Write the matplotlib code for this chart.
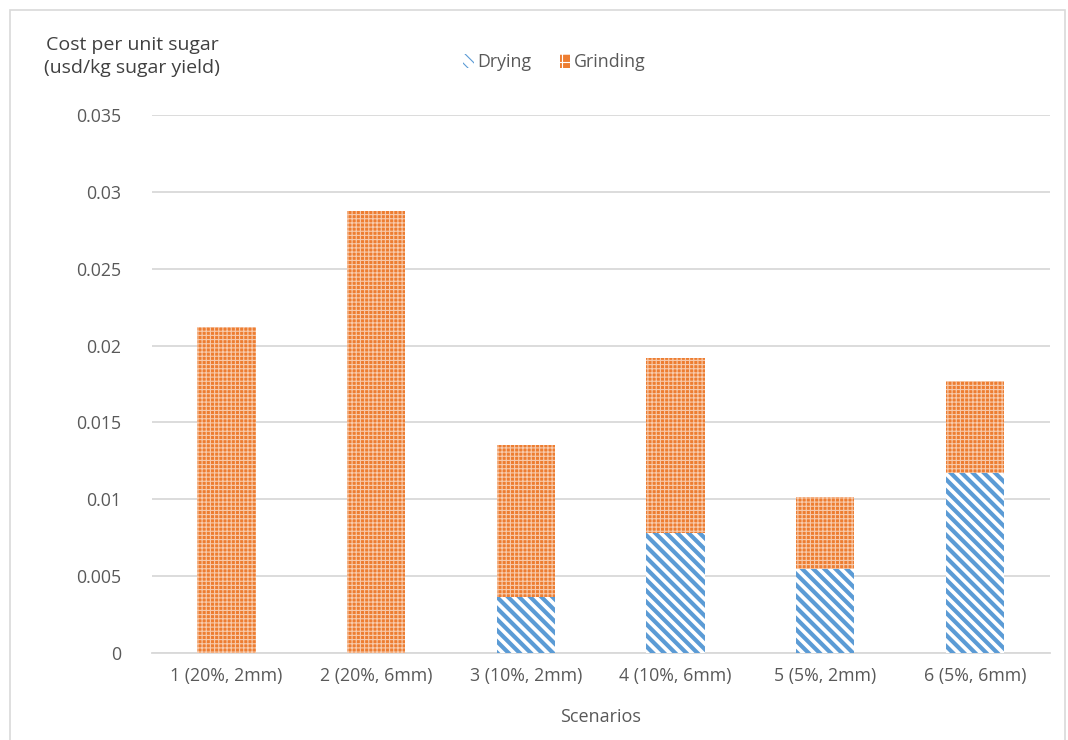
import matplotlib

matplotlib.use("Agg")
import matplotlib.pyplot as plt
from matplotlib.patches import Rectangle, Patch

scenarios = ["1 (20%, 2mm)", "2 (20%, 6mm)", "3 (10%, 2mm)", "4 (10%, 6mm)", "5 (5%, 2mm)", "6 (5%, 6mm)"]
drying = [0.0, 0.0, 0.00364, 0.00781, 0.00546, 0.01171]
total = [0.02121, 0.02875, 0.01353, 0.01919, 0.01015, 0.01769]
grinding = [t - d for t, d in zip(total, drying)]
yticks = [0, 0.005, 0.01, 0.015, 0.02, 0.025, 0.03, 0.035]
ytick_labels = ["0", "0.005", "0.01", "0.015", "0.02", "0.025", "0.03", "0.035"]

BLUE = "#5B9BD5"
ORANGE = "#ED7D31"
TEXT = "#595959"

plt.rcParams["font.family"] = ["Open Sans", "DejaVu Sans"]
plt.rcParams["hatch.linewidth"] = 3.0

fig = plt.figure(figsize=(10.68, 7.4), dpi=100)
ax = fig.add_axes([0.142, 0.1176, 0.841, 0.727])

x = list(range(len(scenarios)))
ax.bar(x, drying, width=0.39, color="white", edgecolor=BLUE, hatch="\\\\\\", linewidth=0, zorder=3)
ax.bar(x, grinding, width=0.39, bottom=drying, color=ORANGE, edgecolor="white", linewidth=0, zorder=3)
# white dot grid over the orange part
plt.rcParams["hatch.linewidth"] = 0.8
g = ax.bar(x, grinding, width=0.39, bottom=drying, color="none", edgecolor="white", hatch="++++", linewidth=0, zorder=4)
for patch in g:
    patch.set_alpha(0.6)

ax.set_xlim(-0.5, len(scenarios) - 0.5)
ax.set_ylim(0, 0.035)
ax.set_yticks(yticks)
ax.set_yticklabels(ytick_labels)
ax.set_xticks(x)
ax.set_xticklabels(scenarios)
ax.tick_params(length=0, labelsize=12.8, colors=TEXT)
ax.tick_params(axis="y", pad=22)
ax.tick_params(axis="x", pad=10)
for side in ("top", "right", "left"):
    ax.spines[side].set_visible(False)
ax.spines["bottom"].set_color("#D9D9D9")
ax.spines["bottom"].set_linewidth(1.3)
ax.yaxis.grid(True, color="#D9D9D9", linewidth=1.3, zorder=0)
ax.set_axisbelow(True)

ax.set_xlabel("Scenarios", fontsize=13, color=TEXT, labelpad=17)
fig.text(0.1236, 0.924, "Cost per unit sugar\n(usd/kg sugar yield)", ha="center", va="center",
         fontsize=14, color="#404040", linespacing=1.35)

handles = [
    Patch(facecolor="white", edgecolor=BLUE, hatch="\\\\\\", linewidth=0, label="Drying"),
    Patch(facecolor=ORANGE, edgecolor="white", hatch="++", linewidth=0, label="Grinding"),
]
fig.legend(handles=handles, loc="center", bbox_to_anchor=(0.519, 0.916), ncol=2, frameon=False,
           fontsize=12.8, labelcolor=TEXT, handlelength=0.6, handleheight=0.9, handletextpad=0.2,
           columnspacing=1.6)

fig.patches.append(Rectangle((0.0095, -0.01), 0.988, 0.996, transform=fig.transFigure, fill=False,
                             edgecolor="#D9D9D9", linewidth=1.2))

fig.savefig("out.png", dpi=100)
